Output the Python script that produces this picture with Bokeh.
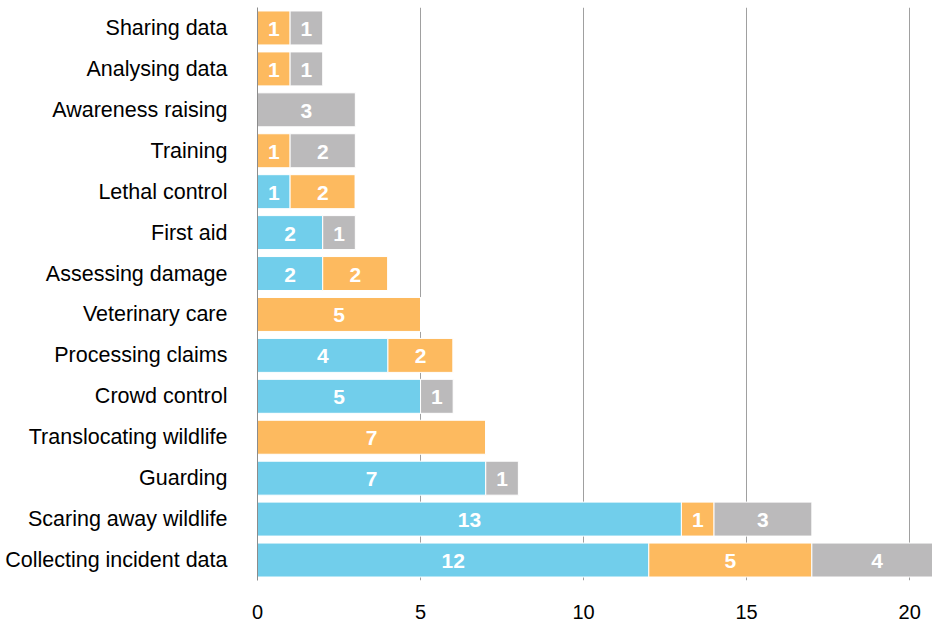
from bokeh.plotting import figure
from bokeh.models import FactorRange, Range1d, ColumnDataSource, FixedTicker
from bokeh.core.properties import value
from bokeh.embed import file_html
from bokeh.resources import INLINE

categories = ["Sharing data", "Analysing data", "Awareness raising", "Training",
              "Lethal control", "First aid", "Assessing damage", "Veterinary care",
              "Processing claims", "Crowd control", "Translocating wildlife",
              "Guarding", "Scaring away wildlife", "Collecting incident data"]
blue_vals = [0, 0, 0, 0, 1, 2, 2, 0, 4, 5, 0, 7, 13, 12]
orange_vals = [1, 1, 0, 1, 2, 0, 2, 5, 2, 0, 7, 0, 1, 5]
gray_vals = [1, 1, 3, 2, 0, 1, 0, 0, 0, 1, 0, 1, 3, 4]
x_ticks = [0, 5, 10, 15, 20]

series = [(blue_vals, "#71CEEB"), (orange_vals, "#FDBA5F"), (gray_vals, "#BBBABB")]

FONT = "Liberation Sans"

p = figure(width=932, height=627, output_backend="svg", toolbar_location=None,
           y_range=FactorRange(*list(reversed(categories)), range_padding=0),
           x_range=Range1d(0, 20.7),
           min_border_left=257, min_border_top=7, min_border_right=0,
           min_border_bottom=47)
p.outline_line_color = None
p.background_fill_color = "white"
p.border_fill_color = "white"

left = [0] * len(categories)
for vals, color in series:
    right = [l + v for l, v in zip(left, vals)]
    src = ColumnDataSource(dict(y=categories, left=left, right=right))
    p.hbar(y="y", left="left", right="right", height=0.83, source=src,
           fill_color=color, line_color="white", line_width=1)
    lx, ly, lt = [], [], []
    for c, l, r, v in zip(categories, left, right, vals):
        if v > 0:
            lx.append((l + r) / 2)
            ly.append(c)
            lt.append(str(v))
    tsrc = ColumnDataSource(dict(x=lx, y=ly, t=lt))
    p.text(x="x", y="y", text="t", source=tsrc, text_color="white",
           text_font=value(FONT), text_font_style="bold", text_font_size="21px",
           text_align="center", text_baseline="middle", y_offset=1)
    left = right

p.ygrid.grid_line_color = None
p.xgrid.grid_line_color = "#A0A0A0"
p.xgrid.grid_line_width = 1
p.xgrid.ticker = FixedTicker(ticks=[5, 10, 15, 20])

p.xaxis.ticker = FixedTicker(ticks=x_ticks)
p.xaxis.axis_line_color = None
p.xaxis.major_tick_line_color = None
p.xaxis.minor_tick_line_color = None
p.xaxis.major_tick_out = 0
p.xaxis.major_label_standoff = 24
p.xaxis.major_label_text_font = FONT
p.xaxis.major_label_text_font_size = "20px"
p.xaxis.major_label_text_color = "black"

p.yaxis.axis_line_color = "#8C8C8C"
p.yaxis.axis_line_width = 1
p.yaxis.major_tick_line_color = None
p.yaxis.minor_tick_line_color = None
p.yaxis.major_tick_out = 0
p.yaxis.major_label_standoff = 30
p.yaxis.major_label_text_font = FONT
p.yaxis.major_label_text_font_size = "21.5px"
p.yaxis.major_label_text_color = "black"

open("out.html", "w").write(file_html(p, INLINE))
